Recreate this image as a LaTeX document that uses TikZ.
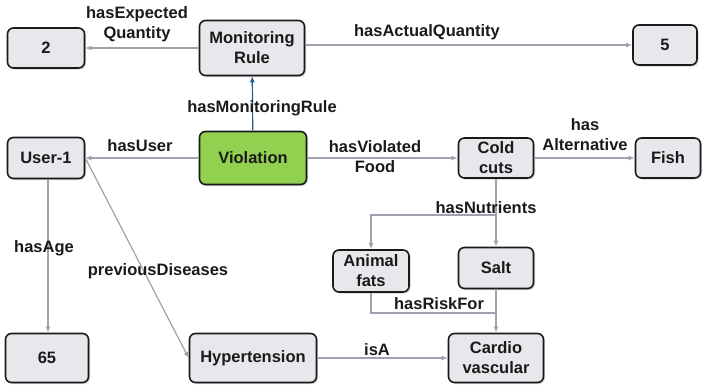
\documentclass[tikz,border=0pt]{standalone}
\usepackage{fontspec}
\setmainfont{Liberation Sans}
\usetikzlibrary{shadows,arrows.meta}
\definecolor{nodefill}{HTML}{E8E8EC}
\definecolor{violgreen}{HTML}{92D050}
\definecolor{edgegray}{HTML}{A0A0AE}
\definecolor{darkblue}{HTML}{255A8C}
\definecolor{ink}{HTML}{1A1A1A}
\tikzset{
  box/.style={draw=ink, line width=1.6pt, rounded corners=6pt, fill=nodefill,
    align=center, inner sep=0pt, text=ink,
    font=\bfseries\fontsize{16.5}{20}\selectfont,
    drop shadow={shadow xshift=1.5pt, shadow yshift=-1.5pt, opacity=0.35}},
  edge/.style={draw=edgegray, line width=1.2pt, -{Latex[length=6pt,width=5pt]}},
  plain/.style={draw=edgegray, line width=1.2pt},
  lbl/.style={align=center, inner sep=0pt, text=ink,
    font=\bfseries\fontsize{16.5}{20}\selectfont}
}
\begin{document}
\begin{tikzpicture}[x=1pt,y=-1pt]
\useasboundingbox (0,0) rectangle (705,388);
% nodes
\node[box, minimum width=77pt, minimum height=40pt] (two) at (46,48) {2};
\node[box, minimum width=105pt, minimum height=55pt] (mon) at (252,48) {Monitoring\\Rule};
\node[box, minimum width=64pt, minimum height=40pt] (five) at (665,45) {5};
\node[box, minimum width=77pt, minimum height=41pt] (user) at (46,158) {User-1};
\node[box, fill=violgreen, minimum width=107pt, minimum height=53pt] (viol) at (253,158) {Violation};
\node[box, minimum width=75pt, minimum height=40pt] (cold) at (496,158) {Cold\\cuts};
\node[box, minimum width=65pt, minimum height=40pt] (fish) at (668,158) {Fish};
\node[box, minimum width=76pt, minimum height=42pt] (animal) at (371,271) {Animal\\fats};
\node[box, minimum width=75pt, minimum height=41pt] (salt) at (496,268) {Salt};
\node[box, minimum width=83pt, minimum height=49pt] (sixtyfive) at (47,358) {65};
\node[box, minimum width=127pt, minimum height=49pt] (hyp) at (253,358) {Hypertension};
\node[box, minimum width=95pt, minimum height=49pt] (cardio) at (496,358) {Cardio\\vascular};
% coordinates
\coordinate (nb) at (496,215);
\coordinate (rb) at (496,313);
% edges
\draw[edge] (mon) -- (two);
\node[lbl] (lexp) at (137,24) {hasExpected\\Quantity};
\draw[edge] (mon.east |- five.west) -- (five.west);
\node[lbl] (lact) at (427,32) {hasActualQuantity};
\draw[draw=darkblue, line width=1.2pt, -{Latex[length=6pt,width=5pt]}] (viol) -- (mon);
\node[lbl] (lmon) at (262,108) {hasMonitoringRule};
\draw[edge] (viol) -- (user);
\node[lbl] (luser) at (140,146) {hasUser};
\draw[edge] (viol) -- (cold);
\node[lbl] (lviol) at (375,156.5) {hasViolated\\Food};
\draw[edge] (cold) -- (fish);
\node[lbl] (lalt) at (585,134.5) {has\\Alternative};
\draw[edge] (cold) -- (salt);
\draw[edge] (nb) -| (animal);
\node[lbl] (lnut) at (486,208) {hasNutrients};
\draw[plain] (animal) |- (rb);
\draw[edge] (salt) -- (cardio);
\node[lbl] (lrisk) at (439,304) {hasRiskFor};
\draw[edge] (hyp) -- (cardio);
\node[lbl] (lisa) at (377,350) {isA};
\draw[edge] (user.south -| 48,0) -- (sixtyfive.north -| 48,0);
\node[lbl] (lage) at (44,248) {hasAge};
\draw[edge] (user.east) -- (hyp.west);
\node[lbl] (lprev) at (158,271) {previousDiseases};
\end{tikzpicture}
\end{document}
